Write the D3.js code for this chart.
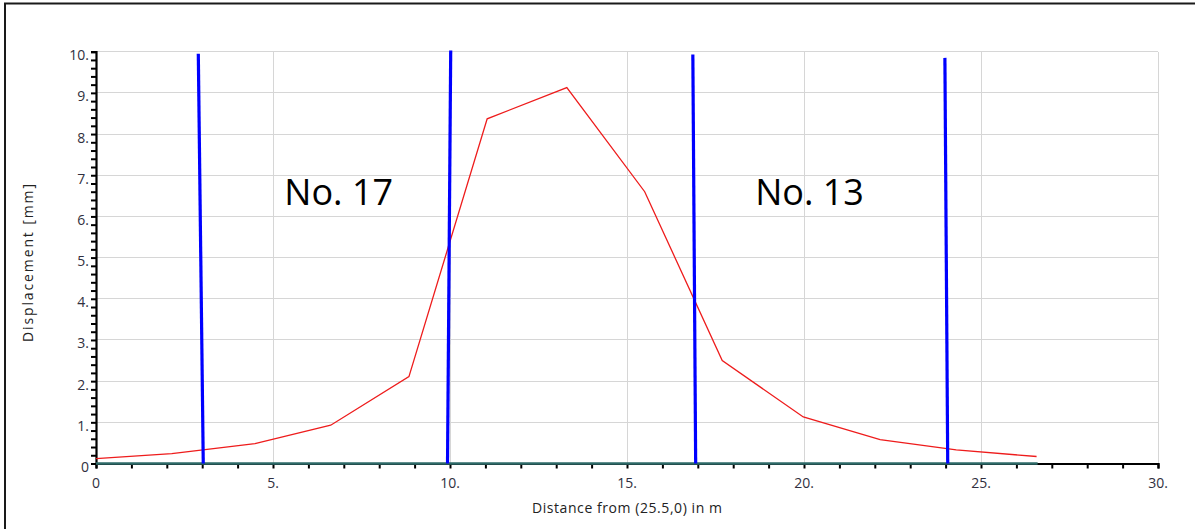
<!DOCTYPE html>
<html>
<head>
<meta charset="utf-8">
<script src="https://cdn.jsdelivr.net/npm/d3@7"></script>
<style>
  html, body { margin: 0; padding: 0; background: #fff; }
  svg { display: block; }
  text { font-family: "Open Sans", "Noto Sans", sans-serif; }
</style>
</head>
<body>
<svg id="chart" width="1195" height="529"></svg>
<script>
// ---- data ----
const distance = [0, 2.14, 4.49, 6.63, 8.84, 11.05, 13.3, 15.5, 17.69, 19.98, 22.15, 24.3, 26.57];
const displacement = [0.12, 0.24, 0.48, 0.93, 2.11, 8.37, 9.13, 6.6, 2.5, 1.13, 0.58, 0.33, 0.17];
const baselineX = [0, 26.6];
const baselineY = [0, 0];
const pileTopX = [2.89, 10.02, 16.86, 23.98];
const pileTopY = [9.95, 10.03, 9.93, 9.85];
const pileBottomX = [3.03, 9.93, 16.94, 24.06];
const pileBottomY = [0, 0, 0, 0];
const pileLabels = ["No. 17", "No. 13"];
const pileLabelX = [5.32, 18.62];
const pileLabelY = [6.28, 6.28];
const xMajorTicks = [0, 5, 10, 15, 20, 25, 30];
const xTickLabels = ["0", "5.", "10.", "15.", "20.", "25.", "30."];
const yMajorTicks = [0, 1, 2, 3, 4, 5, 6, 7, 8, 9, 10];
const yTickLabels = ["0", "1.", "2.", "3.", "4.", "5.", "6.", "7.", "8.", "9.", "10."];
const xTitle = "Distance from (25.5,0) in m";
const yTitle = "Displacement [mm]";

// ---- layout ----
const svg = d3.select("#chart");
const L = 96, R = 1158, T = 51.7, B = 463.5;
const x = d3.scaleLinear().domain([0, 30]).range([L, R]);
const y = d3.scaleLinear().domain([0, 10]).range([B, T]);

// outer frame (cut off at right/bottom)
svg.append("rect").attr("x", 5).attr("y", 3.5).attr("width", 1200).attr("height", 540)
  .attr("fill", "none").attr("stroke", "#1a1a1a").attr("stroke-width", 2);

// grid
const grid = svg.append("g").attr("stroke", "#d6d6d6").attr("stroke-width", 1).attr("shape-rendering", "crispEdges");
grid.selectAll(".gx").data(xMajorTicks.filter(d => d > 0)).join("line")
  .attr("x1", d => x(d)).attr("x2", d => x(d)).attr("y1", y(0)).attr("y2", y(10));
grid.selectAll(".gy").data(yMajorTicks.filter(d => d > 0)).join("line")
  .attr("x1", x(0)).attr("x2", x(30)).attr("y1", d => y(d)).attr("y2", d => y(d));

// axes
const xMinor = d3.range(0, 31, 1);
const yMinor = d3.range(0, 10.001, 0.2);
const xAxis = d3.axisBottom(x).tickValues(xMinor).tickSize(5).tickFormat("");
const gx = svg.append("g").attr("transform", `translate(0,${B})`).call(xAxis);
gx.select(".domain").attr("stroke", "#000").attr("stroke-width", 2.2);
gx.selectAll(".tick line").attr("stroke", "#000").attr("stroke-width", 2);

const yAxis = d3.axisLeft(y).tickValues(yMinor).tickSize(5).tickFormat("");
const gy = svg.append("g").attr("transform", `translate(${L},0)`).call(yAxis);
gy.select(".domain").attr("stroke", "#000").attr("stroke-width", 2.2);
gy.selectAll(".tick line").attr("stroke", "#000").attr("stroke-width", 2);

// tick labels
svg.append("g").selectAll("text").data(xMajorTicks).join("text")
  .attr("x", d => x(d)).attr("y", B + 24)
  .attr("text-anchor", "middle").attr("font-size", 14).attr("fill", "#303040")
  .text((d, i) => xTickLabels[i]);
svg.append("g").selectAll("text").data(yMajorTicks).join("text")
  .attr("x", L - 7).attr("y", d => y(d) + 8.5)
  .attr("text-anchor", "end").attr("font-size", 14).attr("fill", "#303040")
  .text((d, i) => yTickLabels[i]);

// axis titles
svg.append("text").attr("x", (L + R) / 2).attr("y", 513)
  .attr("text-anchor", "middle").attr("font-size", 14).attr("fill", "#222")
  .attr("textLength", 190).attr("lengthAdjust", "spacing").text(xTitle);
svg.append("text").attr("transform", `translate(33,${263}) rotate(-90)`)
  .attr("text-anchor", "middle").attr("font-size", 14).attr("fill", "#222")
  .attr("textLength", 158).attr("lengthAdjust", "spacing").text(yTitle);

// baseline series (teal)
const line = d3.line().x(d => x(d[0])).y(d => y(d[1]));
svg.append("path").datum(baselineX.map((v, i) => [v, baselineY[i]]))
  .attr("d", line).attr("stroke", "#2e6a68").attr("stroke-width", 2.4).attr("fill", "none");

// displacement series (red)
svg.append("path").datum(distance.map((v, i) => [v, displacement[i]]))
  .attr("d", line).attr("stroke", "#ee1c1c").attr("stroke-width", 1.3).attr("fill", "none");

// piles (blue)
svg.append("g").selectAll("line").data(pileTopX).join("line")
  .attr("x1", (d, i) => x(pileTopX[i])).attr("y1", (d, i) => y(pileTopY[i]))
  .attr("x2", (d, i) => x(pileBottomX[i])).attr("y2", (d, i) => y(pileBottomY[i]))
  .attr("stroke", "#0000ff").attr("stroke-width", 3.2);

// pile labels
svg.append("g").selectAll("text").data(pileLabels).join("text")
  .attr("x", (d, i) => x(pileLabelX[i])).attr("y", (d, i) => y(pileLabelY[i]))
  .attr("font-size", 36).attr("fill", "#000")
  .text(d => d);
</script>
</body>
</html>
